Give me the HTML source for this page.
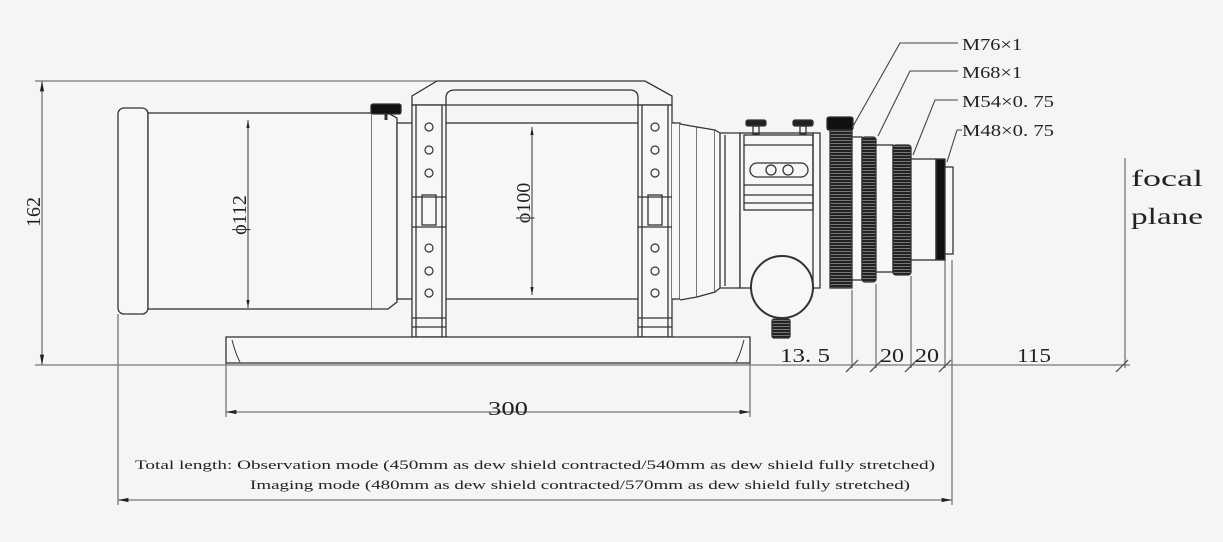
<!DOCTYPE html>
<html><head><meta charset="utf-8"><style>
html,body{margin:0;padding:0;background:#f5f5f5;}
svg{display:block}
text{font-family:"Liberation Serif","Noto Serif CJK SC",serif;fill:#222}
</style></head><body>
<svg width="1223" height="542" viewBox="0 0 1223 542" xmlns="http://www.w3.org/2000/svg">
<defs>
<pattern id="kn" width="3" height="3" patternUnits="userSpaceOnUse"><rect width="3" height="3" fill="#222"/><rect y="2" width="3" height="1" fill="#777"/></pattern>
<marker id="ar" viewBox="0 0 10 10" refX="10" refY="5" markerWidth="8" markerHeight="8" orient="auto-start-reverse"><path d="M0,3 L10,5 L0,7 z" fill="#222"/></marker>
</defs>
<g fill="none" stroke="#333" stroke-width="1.3">
<!-- overall dims -->
<line x1="35" y1="81" x2="437" y2="81" stroke="#777"/>
<line x1="42" y1="81" x2="42" y2="365" stroke="#777" marker-start="url(#ar)" marker-end="url(#ar)"/>
<line x1="35" y1="365" x2="1130" y2="365" stroke="#777"/>
<line x1="118" y1="314" x2="118" y2="505" stroke="#777"/>
<line x1="118" y1="500" x2="952" y2="500" stroke="#777" marker-start="url(#ar)" marker-end="url(#ar)"/>
<line x1="952" y1="260" x2="952" y2="505" stroke="#777"/>
<line x1="226" y1="363" x2="226" y2="417" stroke="#777"/>
<line x1="750" y1="363" x2="750" y2="417" stroke="#777"/>
<line x1="226" y1="412" x2="750" y2="412" stroke="#777" marker-start="url(#ar)" marker-end="url(#ar)"/>
<line x1="1125" y1="158" x2="1125" y2="368" stroke="#777"/>
<line x1="852" y1="290" x2="852" y2="368" stroke="#777"/>
<line x1="876" y1="284" x2="876" y2="368" stroke="#777"/>
<line x1="911" y1="276" x2="911" y2="368" stroke="#777"/>
<line x1="945" y1="260" x2="945" y2="368" stroke="#777"/>
<g stroke="#555"><path d="M846,372 L858,360 M870,372 L882,360 M905,372 L917,360 M939,372 L951,360 M1116,372 L1128,360"/></g>

<!-- dew shield -->
<rect x="118" y="108" width="30" height="206" rx="6" fill="#f7f7f7"/>
<rect x="148" y="113" width="224" height="196" fill="#f7f7f7"/>
<line x1="376" y1="113" x2="376" y2="309"/>
<path d="M372,113 L388,113 L397,118 L397,302 L388,309 L372,309" fill="#f7f7f7"/>
<rect x="371" y="104" width="30" height="10" fill="#111" rx="2"/>
<line x1="386" y1="114" x2="386" y2="120" stroke-width="3"/>
<rect x="397" y="123" width="278" height="176" fill="#f7f7f7"/>
<line x1="248" y1="120" x2="248" y2="308" stroke-width="1" marker-start="url(#ar)" marker-end="url(#ar)"/>
<line x1="532" y1="127" x2="532" y2="295" stroke-width="1" marker-start="url(#ar)" marker-end="url(#ar)"/>

<!-- handle -->
<path d="M412,105 L412,96 L437,81 L645,81 L672,96 L672,105"/>
<path d="M446,105 L446,98 Q446,90 455,90 L630,90 Q638,90 638,98 L638,105"/>
<line x1="412" y1="105" x2="672" y2="105"/>
<!-- brackets -->
<rect x="412" y="105" width="34" height="232" fill="#f7f7f7"/>
<rect x="638" y="105" width="34" height="232" fill="#f7f7f7"/>
<line x1="416" y1="105" x2="416" y2="337"/><line x1="442" y1="105" x2="442" y2="337"/>
<line x1="642" y1="105" x2="642" y2="337"/><line x1="668" y1="105" x2="668" y2="337"/>
<path d="M412,318 H446 M412,327 H446 M638,318 H672 M638,327 H672 M412,197 H446 M412,227 H446 M638,197 H672 M638,227 H672"/>
<rect x="422" y="195" width="14" height="30"/><rect x="648" y="195" width="14" height="30"/>
<g stroke-width="1.2">
<circle cx="429" cy="127" r="4"/><circle cx="429" cy="150" r="4"/><circle cx="429" cy="173" r="4"/>
<circle cx="429" cy="248" r="4"/><circle cx="429" cy="271" r="4"/><circle cx="429" cy="293" r="4"/>
<circle cx="655" cy="127" r="4"/><circle cx="655" cy="150" r="4"/><circle cx="655" cy="173" r="4"/>
<circle cx="655" cy="248" r="4"/><circle cx="655" cy="271" r="4"/><circle cx="655" cy="293" r="4"/>
</g>
<!-- base plate -->
<rect x="226" y="337" width="524" height="26" fill="#f7f7f7"/>
<path d="M232,340 Q236,355 240,362 M744,340 Q740,355 736,362" stroke-width="1"/>

<!-- focuser flare -->
<path d="M672,123 L680,123 L680,299 L672,299" fill="#f7f7f7"/>
<path d="M680,124 L697,127 L697,297 L680,300" fill="#f7f7f7"/>
<path d="M697,127 L715,130 L715,292 L697,297" fill="#f7f7f7"/>
<path d="M715,130 L720,133 L740,133 L740,288 L720,288 L715,292" fill="#f7f7f7"/>
<line x1="720" y1="133" x2="720" y2="288"/><line x1="725" y1="135" x2="725" y2="286"/>
<!-- body -->
<rect x="740" y="133" width="80" height="155" fill="#f7f7f7"/>
<line x1="813" y1="133" x2="813" y2="288"/>
<rect x="744" y="135" width="69" height="75"/>
<line x1="744" y1="145" x2="813" y2="145"/><line x1="744" y1="185" x2="813" y2="185"/><line x1="744" y1="195" x2="813" y2="195"/><line x1="744" y1="203" x2="813" y2="203"/>
<rect x="750" y="163" width="58" height="14" rx="7"/>
<circle cx="771" cy="170" r="5"/><circle cx="788" cy="170" r="5"/>
<rect x="746" y="120" width="20" height="6" fill="#222" rx="2"/><rect x="753" y="126" width="6" height="8"/>
<rect x="793" y="120" width="20" height="6" fill="#222" rx="2"/><rect x="800" y="126" width="6" height="8"/>
<circle cx="782" cy="287" r="31" fill="#f7f7f7" stroke-width="2"/>
<rect x="772" y="319" width="18" height="19" fill="url(#kn)" rx="2"/>
<!-- rings -->
<rect x="827" y="117" width="26" height="13" fill="#111" rx="2"/>
<rect x="830" y="130" width="22" height="158" fill="url(#kn)"/>
<rect x="852" y="137" width="10" height="143" fill="#f7f7f7"/>
<rect x="862" y="137" width="14" height="145" fill="url(#kn)" rx="3"/>
<rect x="876" y="145" width="17" height="127" fill="#f7f7f7"/>
<rect x="893" y="145" width="18" height="130" fill="url(#kn)" rx="3"/>
<rect x="911" y="159" width="25" height="101" fill="#f7f7f7"/>
<rect x="936" y="159" width="9" height="101" fill="#111"/>
<rect x="945" y="167" width="8" height="87" fill="#f7f7f7"/>
<!-- leaders -->
<g stroke="#444" stroke-width="1.1">
<path d="M852,128 L900,43 L958,43"/>
<path d="M878,136 L910,71 L958,71"/>
<path d="M913,155 L935,100 L958,100"/>
<path d="M947,162 L957,130 L962,130"/>
</g>
</g>

<text x="40" y="212" font-size="20" transform="rotate(-90 40 212)" text-anchor="middle">162</text>
<text x="246" y="215" font-size="20" transform="rotate(-90 246 215)" text-anchor="middle" fill="#333">ϕ112</text>
<text x="530" y="203" font-size="20" transform="rotate(-90 530 203)" text-anchor="middle" fill="#333">ϕ100</text>
<text x="488" y="415" font-size="20" textLength="40" lengthAdjust="spacingAndGlyphs">300</text>
<text x="780" y="362" font-size="20" textLength="50" lengthAdjust="spacingAndGlyphs">13. 5</text>
<text x="880" y="362" font-size="20" textLength="24" lengthAdjust="spacingAndGlyphs">20</text>
<text x="915" y="362" font-size="20" textLength="24" lengthAdjust="spacingAndGlyphs">20</text>
<text x="1017" y="362" font-size="20" textLength="34" lengthAdjust="spacingAndGlyphs">115</text>
<text x="962" y="50" font-size="17" textLength="60" lengthAdjust="spacingAndGlyphs">M76×1</text>
<text x="962" y="78" font-size="17" textLength="60" lengthAdjust="spacingAndGlyphs">M68×1</text>
<text x="962" y="107" font-size="17" textLength="92" lengthAdjust="spacingAndGlyphs">M54×0. 75</text>
<text x="962" y="136" font-size="17" textLength="92" lengthAdjust="spacingAndGlyphs">M48×0. 75</text>
<text x="1131" y="186" font-size="23" font-family="Liberation Mono, monospace" textLength="72" lengthAdjust="spacingAndGlyphs">focal</text>
<text x="1131" y="224" font-size="23" font-family="Liberation Mono, monospace" textLength="72" lengthAdjust="spacingAndGlyphs">plane</text>
<text x="135" y="469" font-size="13" font-family="Liberation Mono, monospace" textLength="800" lengthAdjust="spacingAndGlyphs">Total length: Observation mode (450mm as dew shield contracted/540mm as dew shield fully stretched)</text>
<text x="250" y="489" font-size="13" font-family="Liberation Mono, monospace" textLength="660" lengthAdjust="spacingAndGlyphs">Imaging mode (480mm as dew shield contracted/570mm as dew shield fully stretched)</text>
</svg>
</body></html>
